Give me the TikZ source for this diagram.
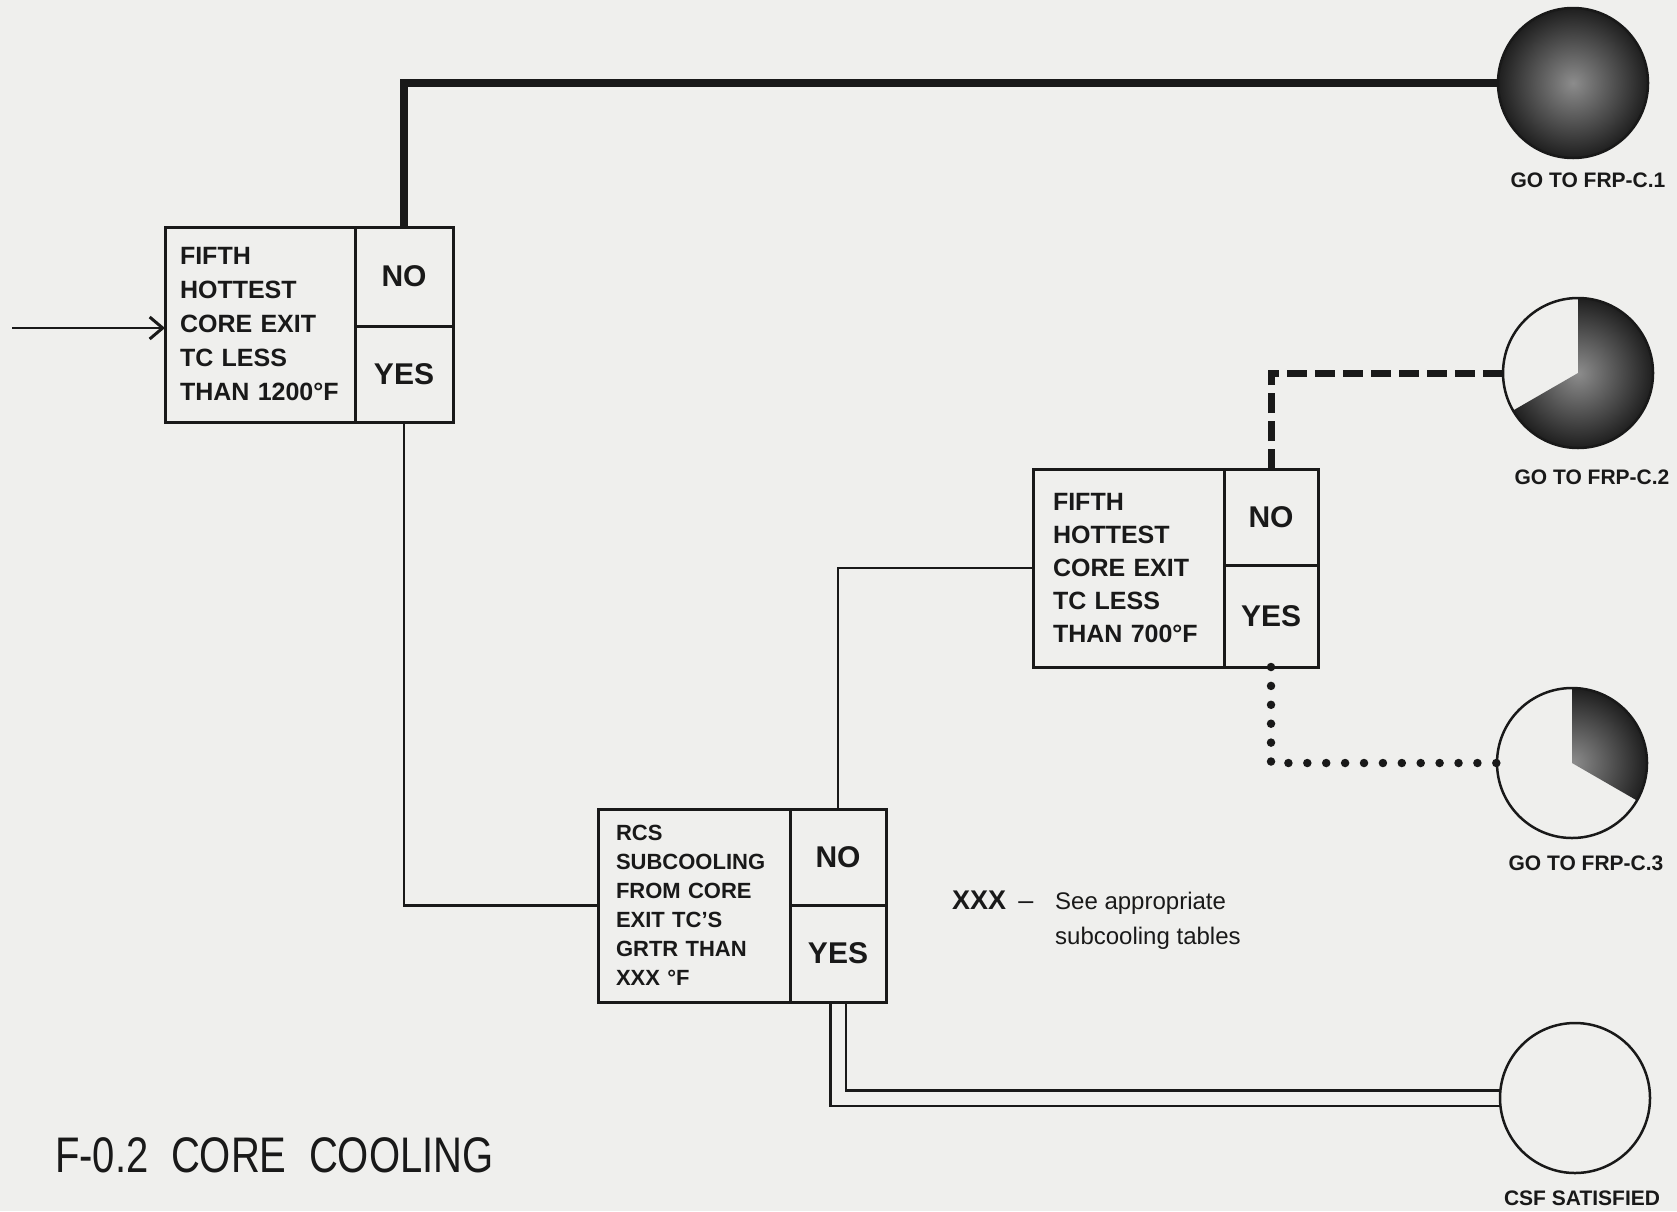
\documentclass[tikz,border=0pt]{standalone}
\usepackage{fontspec}
\setmainfont{Liberation Sans}
\newfontfamily\narrowfont[FakeStretch=0.8]{Liberation Sans}
\usetikzlibrary{arrows.meta}
\definecolor{paper}{RGB}{239,239,237}
\definecolor{ink}{RGB}{25,25,25}
\pgfdeclarelayer{paperlayer}
\pgfdeclarelayer{lines}
\pgfsetlayers{paperlayer,lines,main}
\begin{document}
\begin{tikzpicture}[x=1pt,y=1pt,
  cell/.style={draw=ink, line width=3pt, inner sep=0pt, outer sep=0pt, text=ink},
  qtext/.style={cell, align=left},
  ans/.style={cell, font=\bfseries\fontsize{30}{30}\selectfont},
  wire/.style={draw=ink, line width=2.8pt},
  goal/.style={circle, draw=ink, line width=2.5pt, minimum size=150pt, inner sep=0pt, outer sep=0pt},
  glabel/.style={font=\bfseries\fontsize{21}{21}\selectfont, text=ink, inner sep=0pt},
  darkshade/.style={inner color=black!45, outer color=black!88}
]
\begin{pgfonlayer}{paperlayer}
\fill[paper] (0,0) rectangle (1677,-1211);
\end{pgfonlayer}
\useasboundingbox (0,0) rectangle (1677,-1211);

% decision box 1
\node[qtext, minimum width=190pt, minimum height=195pt, text width=160pt,
      font=\bfseries\fontsize{25}{34}\selectfont] (b1t) at (260,-324.5)
  {FIFTH\\HOTTEST\\CORE EXIT\\TC LESS\\THAN 1200°F};
\node[ans, minimum width=98pt, minimum height=99pt] (b1n) at (404,-276.5) {NO};
\node[ans, minimum width=98pt, minimum height=96pt] (b1y) at (404,-374) {YES};

% decision box 2
\node[qtext, minimum width=191pt, minimum height=198pt, text width=151pt,
      font=\bfseries\fontsize{25}{33}\selectfont] (b2t) at (1128.5,-568)
  {FIFTH\\HOTTEST\\CORE EXIT\\TC LESS\\THAN 700°F};
\node[ans, minimum width=94pt, minimum height=96pt] (b2n) at (1271,-517) {NO};
\node[ans, minimum width=94pt, minimum height=102pt] (b2y) at (1271,-616) {YES};

% decision box 3
\node[qtext, minimum width=192pt, minimum height=193pt, text width=156pt,
      font=\bfseries\fontsize{22}{29}\selectfont] (b3t) at (694,-905.5)
  {RCS\\SUBCOOLING\\FROM CORE\\EXIT TC'S\\GRTR THAN\\XXX °F};
\node[ans, minimum width=96pt, minimum height=96pt] (b3n) at (838,-857) {NO};
\node[ans, minimum width=96pt, minimum height=97pt] (b3y) at (838,-953.5) {YES};

% end-state circles
\node[goal, shading=radial, darkshade] (c1) at (1573,-83) {};
\node[goal] (c2) at (1578,-373) {};
\node[goal] (c3) at (1572,-763) {};
\node[goal] (c4) at (1575,-1098) {};

\begin{pgfonlayer}{lines}
\begin{scope}
\clip (c2.center) -- ++(0,75) arc[start angle=90, end angle=-150, radius=75pt] -- cycle;
\shade[darkshade] (c2.center) circle[radius=75pt];
\end{scope}
\begin{scope}
\clip (c3.center) -- ++(0,75) arc[start angle=90, end angle=-30, radius=75pt] -- cycle;
\shade[darkshade] (c3.center) circle[radius=75pt];
\end{scope}

% connectors
\coordinate (in) at (12,-328);
\draw[wire, -{Straight Barb[length=13pt,width=22pt,line width=3pt]}] (in) -- (b1t.west |- in);
\draw[ink, line width=8pt] (b1n.north) |- (c1.west);
\draw[wire] (b1y.south) |- (b3t.west);
\draw[wire] (b3n.north) |- (b2t.west);
\draw[ink, line width=7pt, dash pattern=on 20pt off 8pt] (b2n.north) |- (c2.west);
\draw[ink, line width=8.5pt, line cap=round, dash pattern=on 0pt off 18.9pt] (b2y.south) |- (c3.west);
\draw[ink, line width=2.5pt, double=paper, double distance=13pt] (b3y.south) |- (c4.west);
\end{pgfonlayer}

% labels
\node[glabel] (l1) at (1588,-180) {GO TO FRP-C.1};
\node[glabel] (l2) at (1592,-477) {GO TO FRP-C.2};
\node[glabel] (l3) at (1586,-863) {GO TO FRP-C.3};
\node[glabel] (l4) at (1582,-1198) {CSF SATISFIED};

\node[anchor=north west, inner sep=0pt, align=left, text=ink,
      font=\fontsize{24}{35}\selectfont] (note) at (952,-891)
  {\makebox[103pt][l]{\fontsize{27}{35}\selectfont\textbf{XXX}\hspace{0.45em}--}See appropriate\\\hspace*{103pt}subcooling tables};

\node[anchor=base west, inner sep=0pt, text=ink,
      font=\narrowfont\fontsize{50}{50}\selectfont] (title) at (55,-1172)
  {F-0.2\hspace{0.45em}CORE\hspace{0.45em}COOLING};
\end{tikzpicture}
\end{document}
